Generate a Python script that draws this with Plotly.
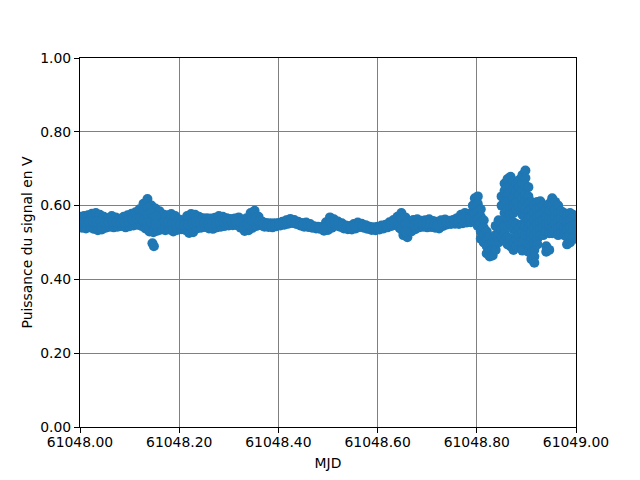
import numpy as np
import plotly.graph_objects as go

MJD0 = 61048.0

# Stable part: sampled every 0.004 day, values alternate upper / lower edge of the band
power_stable = [
    .570, .540, .572, .538, .574, .541, .578, .537, .580, .533,
    .575, .535, .570, .540, .566, .543, .572, .541, .568, .543,
    .564, .545, .570, .541, .574, .544, .578, .546, .582, .548,
    .590, .545, .605, .538, .618, .530, .600, .528, .592, .532,
    .585, .535, .576, .533, .574, .535, .577, .530, .572, .534,
    .562, .536, .560, .534, .572, .526, .577, .528, .575, .538,
    .570, .540, .566, .542, .566, .538, .565, .537, .567, .541,
    .572, .543, .570, .545, .566, .546, .564, .547, .565, .547,
    .568, .540, .560, .531, .566, .533, .580, .540, .586, .545,
    .570, .547, .556, .543, .553, .542, .552, .541, .552, .544,
    .553, .546, .556, .548, .560, .551, .564, .553, .561, .550,
    .556, .546, .553, .543, .554, .542, .550, .540, .544, .538,
    .543, .537, .542, .532, .555, .534, .568, .540, .563, .546,
    .557, .543, .552, .538, .546, .536, .545, .535, .550, .538,
    .554, .542, .551, .540, .547, .537, .543, .534, .541, .533,
    .543, .535, .546, .538, .548, .541, .555, .545, .561, .548,
    .570, .540, .580, .520, .568, .514, .558, .530, .561, .536,
    .563, .541, .559, .543, .560, .541, .563, .542, .558, .540,
    .556, .538, .560, .545, .562, .549, .559, .550, .561, .551,
    .566, .550, .575, .552, .580, .554, .578, .555, .600, .560,
]
sample_step = 0.004

# Middle of the band, one reading every 0.008 day (offset 0.002)
power_mid = [
    .555, .555, .557, .557, .556, .555, .555, .555, .556, .555,
    .555, .555, .559, .562, .565, .568, .572, .574, .564, .562,
    .560, .555, .555, .553, .553, .549, .547, .549, .552, .556,
    .555, .554, .552, .551, .554, .557, .557, .556, .555, .556,
    .554, .545, .550, .560, .565, .558, .550, .547, .546, .548,
    .550, .552, .555, .558, .555, .551, .548, .548, .545, .541,
    .540, .537, .544, .554, .554, .550, .545, .541, .540, .544,
    .548, .545, .542, .538, .537, .539, .542, .544, .550, .554,
    .555, .550, .541, .544, .548, .552, .551, .550, .552, .549,
    .547, .552, .555, .554, .556, .558, .563, .567, .566, .580,
]
mid_step = 0.008

# Extra readings inside the two spikes and the isolated low points
extra_t = [0.128, 0.128, 0.136, 0.136, 0.136, 0.144, 0.144, 0.152, 0.152,
           0.146, 0.149, 0.648, 0.648, 0.656, 0.656]
extra_v = [0.585, 0.560, 0.595, 0.575, 0.552, 0.580, 0.555, 0.570, 0.550,
           0.498, 0.490, 0.565, 0.535, 0.550, 0.530]

# Noisy end of the run: (time offset, list of readings at that time)
chaos_cols = [
    (0.796, [.620, .600, .580, .560]),
    (0.802, [.625, .605, .585, .565, .545]),
    (0.808, [.590, .570, .550, .530, .510]),
    (0.814, [.560, .540, .520, .500]),
    (0.820, [.530, .510, .490, .470]),
    (0.826, [.515, .495, .475, .462]),
    (0.832, [.500, .480, .465]),
    (0.838, [.545, .520, .500, .480]),
    (0.844, [.560, .540, .520, .500]),
    (0.850, [.555, .535, .515, .600, .625]),
    (0.856, [.660, .640, .620, .600, .580, .545, .525, .505]),
    (0.862, [.672, .650, .630, .610, .590, .565, .545, .515, .495]),
    (0.868, [.678, .655, .635, .600, .575, .550, .510, .490]),
    (0.874, [.665, .645, .620, .600, .580, .555, .535, .500, .480]),
    (0.880, [.660, .640, .610, .590, .550, .530, .510, .490]),
    (0.886, [.670, .650, .630, .600, .540, .520, .500]),
    (0.892, [.683, .660, .640, .620, .600, .575, .550, .525, .500, .478]),
    (0.898, [.695, .675, .655, .630, .610, .590, .570, .545, .520]),
    (0.904, [.650, .625, .605, .585, .565, .540, .515, .495, .475]),
    (0.910, [.610, .590, .570, .550, .530, .510, .490, .470, .455]),
    (0.916, [.600, .580, .560, .540, .520, .500, .480, .462, .445]),
    (0.922, [.610, .590, .570, .550, .530, .510, .495]),
    (0.928, [.612, .595, .575, .555, .535, .520]),
    (0.934, [.600, .580, .560, .540, .520]),
    (0.940, [.590, .570, .550, .530, .490, .475]),
    (0.946, [.605, .585, .565, .545, .525, .480]),
    (0.952, [.620, .600, .580, .560, .540, .525]),
    (0.958, [.610, .590, .570, .550, .530]),
    (0.964, [.600, .580, .560, .540, .520]),
    (0.970, [.585, .565, .545, .525]),
    (0.976, [.580, .560, .540, .520]),
    (0.982, [.575, .555, .535, .515, .495]),
    (0.988, [.580, .560, .540, .520, .500]),
    (0.994, [.575, .555, .535, .515]),
    (1.000, [.570, .550, .530, .510]),
]

x_ticks = [61048.0, 61048.2, 61048.4, 61048.6, 61048.8, 61049.0]
y_ticks = [0.0, 0.2, 0.4, 0.6, 0.8, 1.0]

t_stable = np.arange(len(power_stable)) * sample_step
t_mid = np.arange(len(power_mid)) * mid_step + 0.002
chaos_t = [t for t, vals in chaos_cols for _ in vals]
chaos_v = [v for _, vals in chaos_cols for v in vals]

mjd = np.concatenate([t_stable, t_mid, extra_t, chaos_t]) + MJD0
power = np.concatenate([power_stable, power_mid, extra_v, chaos_v])

font = dict(family="DejaVu Sans", size=13.9, color="black")

fig = go.Figure(go.Scatter(
    x=mjd, y=power, mode="markers",
    marker=dict(color="#1f77b4", size=10, line=dict(width=0)),
    showlegend=False,
))

axis_common = dict(
    showline=True, linecolor="black", linewidth=1, mirror=True,
    ticks="outside", ticklen=5, tickwidth=1, tickcolor="black",
    showgrid=True, gridcolor="#808080", gridwidth=1,
    zeroline=False, tickfont=font, tickformat=".2f",
)

# page body has an 8px default margin, so the figure is 8px smaller
fig.update_layout(
    width=632, height=472,
    margin=dict(l=72, r=64, t=50, b=45),
    paper_bgcolor="white", plot_bgcolor="white",
    font=font,
    xaxis=dict(range=[61048.0, 61049.0], tickvals=x_ticks, ticklabelstandoff=-3,
               title=dict(text="MJD", font=font, standoff=9), **axis_common),
    yaxis=dict(range=[0.0, 1.0], tickvals=y_ticks,
               title=dict(text="Puissance du signal en V", font=font, standoff=4),
               **axis_common),
)

fig.write_html("out.html")
